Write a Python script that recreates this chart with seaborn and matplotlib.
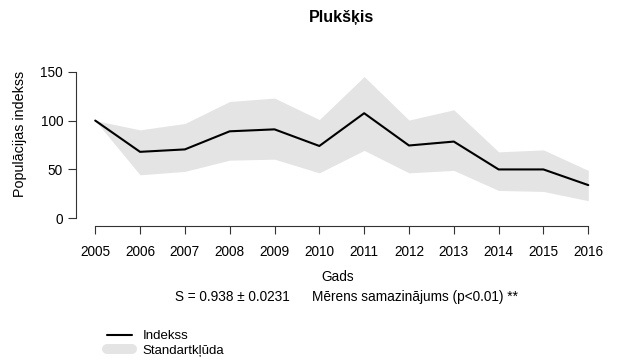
import matplotlib
matplotlib.use("Agg")
import matplotlib.pyplot as plt
from matplotlib.lines import Line2D
import seaborn as sns
import pandas as pd

# Population index of the species with its standard-error band
years = [2005, 2006, 2007, 2008, 2009, 2010, 2011, 2012, 2013, 2014, 2015, 2016]
index = [100, 68, 70.5, 89, 91, 74, 107.5, 74.5, 78.5, 50, 50, 34]
upper = [100, 90.5, 97, 119.5, 123, 101, 145, 100.5, 111, 68, 70, 49]
lower = [100, 44.5, 48, 59.5, 60.5, 46.5, 69.5, 46.5, 49, 28.5, 27.5, 18]

title = "Plukšķis"
xlabel = "Gads"
ylabel = "Populācijas indekss"
slope_text = "S = 0.938 ± 0.0231"
trend_text = "Mērens samazinājums (p<0.01) **"
legend_labels = ["Indekss", "Standartkļūda"]

df = pd.DataFrame({"Gads": years, "Indekss": index, "upper": upper, "lower": lower})

sns.set_style("ticks")
plt.rcParams["font.family"] = ["Liberation Sans", "DejaVu Sans"]
for key in ("text.color", "axes.labelcolor", "xtick.color", "ytick.color"):
    plt.rcParams[key] = "black"

W, H = 621, 363
FS = 9.8
fig = plt.figure(figsize=(W / 100, H / 100), dpi=100)
ax = fig.add_axes([75.5 / W, 1 - 224.2 / H, (608 - 75.5) / W, (224.2 - 65.8) / H])

band_color = "#e4e4e4"
ax.fill_between(df["Gads"], df["lower"], df["upper"], color=band_color, linewidth=0)
sns.lineplot(data=df, x="Gads", y="Indekss", color="black", linewidth=1.5, ax=ax)

ax.set_xlim(2004.56, 2016.44)
ax.set_ylim(-6, 156)
ax.set_xticks(years)
ax.set_yticks([0, 50, 100, 150])
ax.tick_params(axis="both", labelsize=FS, length=5.5, width=0.8, color="#333333")
ax.tick_params(axis="x", pad=8.5)
ax.tick_params(axis="y", pad=3.5)

for side in ("top", "right"):
    ax.spines[side].set_visible(False)
ax.spines["left"].set_bounds(0, 150)
ax.spines["bottom"].set_bounds(2005, 2016)
ax.spines["bottom"].set_position(("outward", 1))
for side in ("left", "bottom"):
    ax.spines[side].set_linewidth(0.8)
    ax.spines[side].set_color("#333333")

ax.set_xlabel("")
ax.set_ylabel("")

fig.text(341 / W, 1 - 17.5 / H, title, ha="center", va="center", fontsize=11.5, fontweight="bold")
fig.text(20 / W, 1 - 134 / H, ylabel, ha="center", va="center", rotation=90, fontsize=10.3)
fig.text(338 / W, 1 - 277 / H, xlabel, ha="center", va="center", fontsize=FS)
fig.text(175 / W, 1 - 297 / H, slope_text, ha="left", va="center", fontsize=FS)
fig.text(311.7 / W, 1 - 297 / H, trend_text, ha="left", va="center", fontsize=FS)

handles = [
    Line2D([], [], color="black", linewidth=1.5),
    Line2D([], [], color=band_color, linewidth=7.2, solid_capstyle="round"),
]
fig.legend(handles, legend_labels, loc="upper left", bbox_to_anchor=(106.7 / W, 1 - 330 / H),
           frameon=False, fontsize=9.5, handlelength=1.95, handletextpad=0.75,
           labelspacing=0.2, borderpad=0, borderaxespad=0)

fig.savefig("out.png", dpi=100)
